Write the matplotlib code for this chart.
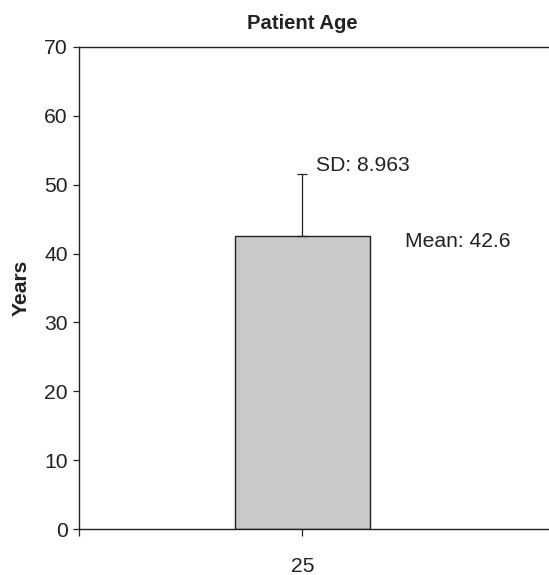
import numpy as np
import matplotlib
matplotlib.use("Agg")
import matplotlib.pyplot as plt

categories = ["25"]
means = [42.6]
sds = [8.963]

plt.rcParams["font.family"] = ["Liberation Sans", "DejaVu Sans"]
ink = "#222222"
fs = 15.2

fig = plt.figure(figsize=(5.49, 5.75), dpi=100)
ax = fig.add_axes([0.1434, 0.0795, 0.8566, 0.8393])

x = np.arange(len(categories))
ax.bar(x, means, width=0.3, color="#c8c9cb", edgecolor=ink, linewidth=1.0, zorder=2)
ax.errorbar(x, means, yerr=[np.zeros(len(sds)), sds], fmt="none", ecolor=ink,
            elinewidth=0.9, capsize=3.3, capthick=0.9, zorder=3)

ax.text(x[0] + 0.030, means[0] + sds[0] + 1.2, f"SD: {sds[0]}", fontsize=fs,
        color=ink, va="center", ha="left")
ax.text(x[0] + 0.23, means[0] - 0.9, f"Mean: {means[0]}", fontsize=fs,
        color=ink, va="center", ha="left")

ax.set_xlim(-0.5, 0.551)
ax.set_ylim(0, 70)
ax.set_yticks(np.arange(0, 71, 10))
ax.set_xticks(x)
ax.set_xticklabels(categories)
ax.set_xticks([-0.5], minor=True)
ax.tick_params(axis="y", direction="out", length=4.3, width=0.9, pad=3.5,
               labelsize=fs, colors=ink)
ax.tick_params(axis="x", which="both", direction="out", length=5, width=0.9,
               pad=15, labelsize=fs, colors=ink)

for s in ["left", "bottom", "top"]:
    ax.spines[s].set_color(ink)
    ax.spines[s].set_linewidth(1.0)
ax.spines["right"].set_visible(False)

ax.set_ylabel("Years", fontsize=fs, fontweight="bold", color=ink, labelpad=10)
ax.text(x[0], 1.0 + 23.5 / 483, "Patient Age", transform=ax.get_xaxis_transform(),
        fontsize=14.6, fontweight="bold", color=ink, ha="center", va="center")

fig.savefig("out.png", dpi=100)
